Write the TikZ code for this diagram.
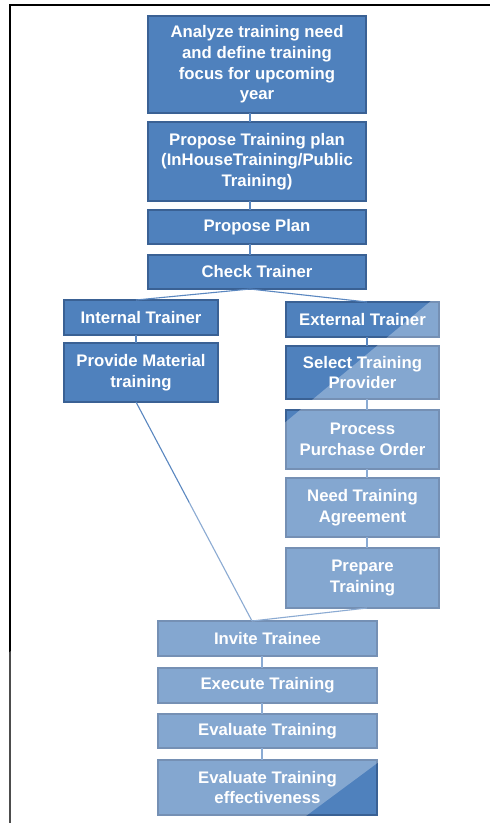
\documentclass[tikz,border=0pt]{standalone}
\usepackage{fontspec}
\setmainfont{Liberation Sans}
\usetikzlibrary{calc}
\definecolor{boxfill}{HTML}{4F81BD}
\definecolor{boxline}{HTML}{3A6194}
\definecolor{linkcol}{HTML}{5A87C0}
\begin{document}
\begin{tikzpicture}[x=1bp,y=-1bp,
  stepbox/.style={draw=boxline, line width=1.8bp, fill=boxfill, text=white,
    font=\bfseries\fontsize{16.8}{20.7}\selectfont, align=center,
    inner sep=0pt, outer sep=0pt},
  link/.style={draw=linkcol, line width=1.1bp}]
\useasboundingbox (0,0) rectangle (490,823);
\fill[white] (0,0) rectangle (490,823);
% page frame
\draw[line width=2.2bp] (490,5) -- (10,5) -- (10,823);

% main column
\node[stepbox, minimum width=218bp, minimum height=97bp] (analyze) at (257,64.5)
  {Analyze training need\\and define training\\focus for upcoming\\year};
\node[stepbox, minimum width=218bp, minimum height=79bp] (plan) at (257,161.5)
  {Propose Training plan\\(InHouseTraining/Public\\Training)};
\node[stepbox, minimum width=218bp, minimum height=34bp] (propose) at (257,227) {Propose Plan};
\node[stepbox, minimum width=218bp, minimum height=34bp] (check) at (257,272) {Check Trainer};

% internal branch
\node[stepbox, minimum width=154bp, minimum height=35bp] (internal) at (141,317.5) {Internal Trainer};
\node[stepbox, minimum width=154bp, minimum height=59bp] (material) at (141,372.5) {Provide Material\\training};

% external branch
\node[stepbox, minimum width=153bp, minimum height=35bp] (external) at (362.5,319.5) {External Trainer};
\node[stepbox, minimum width=153bp, minimum height=53bp] (provider) at (362.5,372.5) {Select Training\\Provider};
\node[stepbox, minimum width=153bp, minimum height=59bp] (order) at (362.5,439.5) {Process\\Purchase Order};
\node[stepbox, minimum width=153bp, minimum height=59bp] (agreement) at (362.5,507.5) {Need Training\\Agreement};
\node[stepbox, minimum width=153bp, minimum height=60bp] (prepare) at (362.5,578) {Prepare\\Training};

% closing column
\node[stepbox, minimum width=219bp, minimum height=35bp] (invite) at (267.5,638.5) {Invite Trainee};
\node[stepbox, minimum width=219bp, minimum height=35bp] (execute) at (267.5,685.5) {Execute Training};
\node[stepbox, minimum width=219bp, minimum height=34bp] (evaluate) at (267.5,731) {Evaluate Training};
\node[stepbox, minimum width=219bp, minimum height=55bp] (effect) at (267.5,787.5) {Evaluate Training\\effectiveness};

% connector axes
\coordinate (mainaxis) at (250,0);
\coordinate (leftaxis) at (136,0);
\coordinate (rightaxis) at (367,0);
\coordinate (lowaxis) at (262,0);
\coordinate (join) at (252,0);

\draw[link] (analyze.south -| mainaxis) -- (plan.north -| mainaxis);
\draw[link] (plan.south -| mainaxis) -- (propose.north -| mainaxis);
\draw[link] (propose.south -| mainaxis) -- (check.north -| mainaxis);
\draw[link] (check.south -| mainaxis) -- (internal.north -| leftaxis);
\draw[link] (check.south -| mainaxis) -- (external.north -| rightaxis);
\draw[link] (internal.south -| leftaxis) -- (material.north -| leftaxis);
\draw[link] (external.south -| rightaxis) -- (provider.north -| rightaxis);
\draw[link] (provider.south -| rightaxis) -- (order.north -| rightaxis);
\draw[link] (order.south -| rightaxis) -- (agreement.north -| rightaxis);
\draw[link] (agreement.south -| rightaxis) -- (prepare.north -| rightaxis);
\draw[link] (material.south -| leftaxis) -- (invite.north -| join);
\draw[link] (prepare.south -| rightaxis) -- (invite.north -| join);
\draw[link] (invite.south -| lowaxis) -- (execute.north -| lowaxis);
\draw[link] (execute.south -| lowaxis) -- (evaluate.north -| lowaxis);
\draw[link] (evaluate.south -| lowaxis) -- (effect.north -| lowaxis);

% lighter diagonal band across the lower part
\begin{scope}
  \clip (0,0) rectangle (490,823);
  \fill[white, opacity=0.3] (600,160) -- (-204,830) -- (287,830) -- (1191,160) -- cycle;
\end{scope}
\end{tikzpicture}
\end{document}
